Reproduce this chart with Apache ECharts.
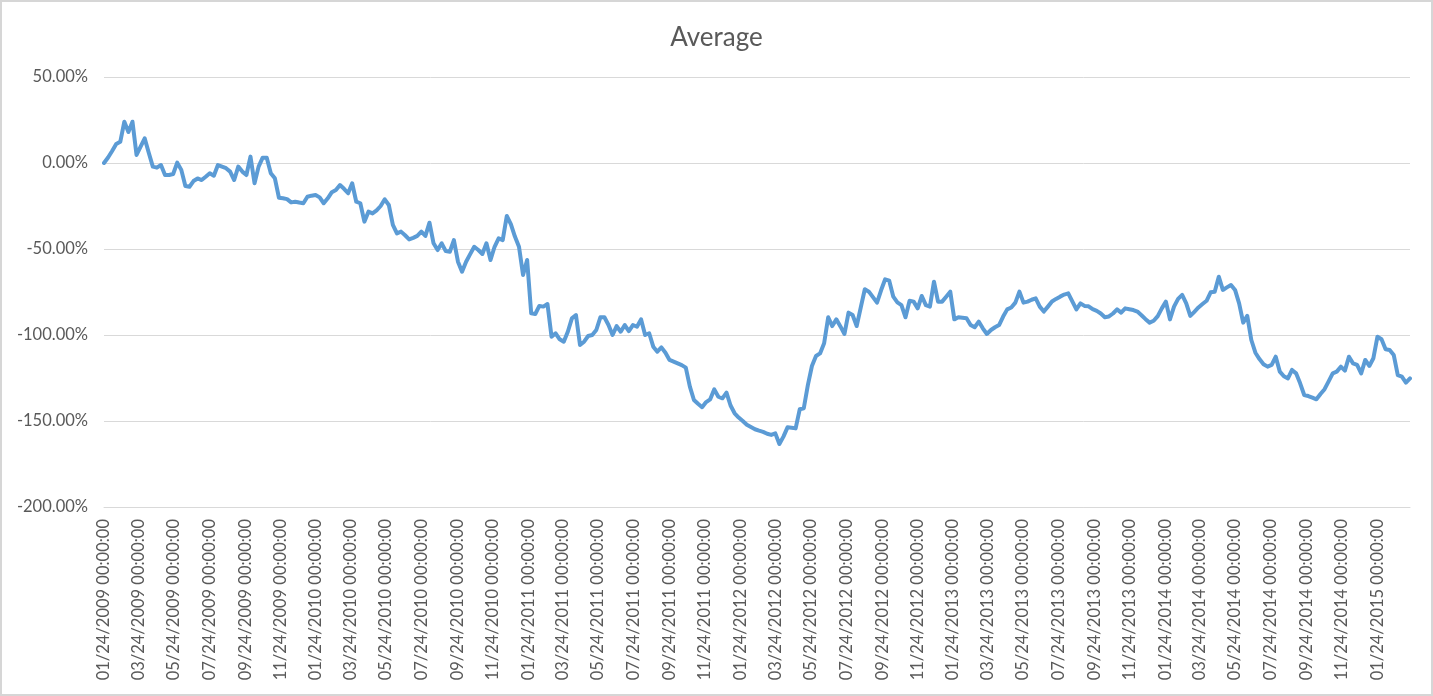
<!DOCTYPE html>
<html>
<head>
<meta charset="utf-8">
<script src="https://cdn.jsdelivr.net/npm/echarts@6/dist/echarts.min.js"></script>
<style>
  html, body { margin: 0; padding: 0; background: #fff; }
  #frame { width: 1433px; height: 696px; box-sizing: border-box; border: 2px solid #d6d6d6; background: #fff; }
  #chart { width: 100%; height: 100%; }
</style>
</head>
<body>
<div id="frame"><div id="chart"></div></div>
<script>
// Weekly observations starting on this date
const startDate = '2009-01-24';

// Weekly "Average" values in percent
const averageValues = [
  0, 3.2, 7.0, 11.0, 12.3, 24, 18, 24, 4.7, 9.5,
  14.3, 6, -2.1, -2.7, -1.2, -7, -7, -6.4, 0.2, -4,
  -13.4, -13.8, -10.5, -9, -9.9, -8, -6, -7.4, -1.2, -2.1,
  -3, -5, -9.9, -2.1, -5, -7, 3.7, -11.8, -2.1, 3.1,
  3.1, -6, -8.9, -20.2, -20.5, -21, -22.9, -22.5, -23, -23.4,
  -19.6, -19, -18.6, -20, -23.4, -20.5, -17, -15.7, -12.8, -15,
  -17.6, -11.8, -22.5, -23.4, -34.1, -28.3, -29.3, -27.5, -25, -21.1,
  -24.4, -36, -40.9, -39.9, -42, -44.4, -43.5, -42.4, -39.9, -42.4,
  -34.7, -46.7, -50.6, -46.7, -51.2, -51.6, -44.8, -57.4, -63.2, -57.4,
  -53, -48.7, -50.6, -52.9, -46.7, -56.4, -48.7, -43.8, -44.8, -30.8,
  -35.5, -42.8, -48.7, -65.1, -56.4, -87.4, -87.8, -83.1, -83.5, -82,
  -101, -99, -102.5, -103.9, -98.1, -90.3, -88.4, -105.8, -103.9, -100.6,
  -100, -97.1, -89.7, -89.7, -94.2, -100, -94.8, -98.1, -94.2, -97.7,
  -94.2, -95.2, -90.9, -100, -99, -106.8, -109.7, -107.2, -110.3, -114.5,
  -115.5, -116.5, -117.5, -119, -130, -137.8, -140, -142, -139, -137.4,
  -131.6, -135.9, -136.8, -133.5, -141, -145.5, -148, -150, -152.2, -153.5,
  -154.8, -155.6, -156.3, -157.4, -158.1, -157.2, -163.4, -159.1, -153.7, -153.9,
  -154.3, -143.2, -142.6, -129.1, -118, -112.2, -110.7, -104.8, -89.7, -94.8,
  -90.9, -95, -99.4, -87, -88.4, -94.8, -84, -73.4, -74.8, -78,
  -81.2, -74, -67.6, -68.4, -77.7, -81, -82.6, -89.7, -80.1, -80.6,
  -84.5, -77.3, -82.6, -83.5, -69, -80.6, -80.6, -77.7, -74.8, -90.9,
  -89.7, -90, -90.3, -94.2, -95.5, -92.2, -96.1, -99.4, -97.1, -95.5,
  -94.2, -89.3, -85.1, -84, -81.2, -74.8, -81.2, -80.6, -79.5, -78.7,
  -83.5, -86.4, -83.5, -80.5, -79, -77.7, -76.5, -75.8, -80.5, -85.1,
  -81.6, -83.1, -83.3, -85, -86, -87.5, -89.7, -89.2, -87.5, -85.1,
  -87, -84.5, -85, -85.5, -86.4, -88.5, -90.8, -92.8, -91.7, -89,
  -84.5, -80.6, -90.9, -83.5, -79, -76.7, -81.6, -88.9, -86.5, -84,
  -82, -80.1, -75.2, -74.8, -66.1, -73.8, -72.3, -70.9, -73.8, -81.6,
  -92.8, -88.9, -102.9, -110.3, -114, -117, -118.4, -117.4, -112.6, -121.3,
  -124, -125.2, -120.3, -122.3, -128.1, -134.9, -135.5, -136.4, -137.4, -134.3,
  -131.5, -127, -122.3, -121.3, -118.4, -120.7, -112.6, -116.5, -117.4, -122.3,
  -114.5, -118, -113.5, -101, -102.5, -108.3, -108.7, -111.6, -123.3, -124.2,
  -127.7, -125.2
];

// X-axis tick labels (every two months)
const xTickLabels = [
  '01/24/2009 00:00:00', '03/24/2009 00:00:00', '05/24/2009 00:00:00', '07/24/2009 00:00:00', '09/24/2009 00:00:00', '11/24/2009 00:00:00',
  '01/24/2010 00:00:00', '03/24/2010 00:00:00', '05/24/2010 00:00:00', '07/24/2010 00:00:00', '09/24/2010 00:00:00', '11/24/2010 00:00:00',
  '01/24/2011 00:00:00', '03/24/2011 00:00:00', '05/24/2011 00:00:00', '07/24/2011 00:00:00', '09/24/2011 00:00:00', '11/24/2011 00:00:00',
  '01/24/2012 00:00:00', '03/24/2012 00:00:00', '05/24/2012 00:00:00', '07/24/2012 00:00:00', '09/24/2012 00:00:00', '11/24/2012 00:00:00',
  '01/24/2013 00:00:00', '03/24/2013 00:00:00', '05/24/2013 00:00:00', '07/24/2013 00:00:00', '09/24/2013 00:00:00', '11/24/2013 00:00:00',
  '01/24/2014 00:00:00', '03/24/2014 00:00:00', '05/24/2014 00:00:00', '07/24/2014 00:00:00', '09/24/2014 00:00:00', '11/24/2014 00:00:00',
  '01/24/2015 00:00:00'
];

// Y-axis tick values (percent)
const yTicks = [-200, -150, -100, -50, 0, 50];

const DAY = 86400000;
function parseLabel(s) {
  const m = s.match(/^(\d\d)\/(\d\d)\/(\d{4})/);
  return Date.UTC(+m[3], +m[1] - 1, +m[2]);
}
function pad(n) { return (n < 10 ? '0' : '') + n; }
function fmtDate(t) {
  const d = new Date(t);
  return pad(d.getUTCMonth() + 1) + '/' + pad(d.getUTCDate()) + '/' + d.getUTCFullYear() + ' 00:00:00';
}

const start = Date.parse(startDate + 'T00:00:00Z');
const weekDates = averageValues.map((_, i) => start + i * 7 * DAY);
const seriesData = averageValues.map((v, i) => [weekDates[i], v]);
const tickPositions = xTickLabels.map(parseLabel);

const chart = echarts.init(document.getElementById('chart'), null, { renderer: 'canvas' });
const fontFamily = 'Lato, "Open Sans", sans-serif';
chart.setOption({
  animation: false,
  backgroundColor: '#ffffff',
  title: {
    text: 'Average',
    left: 'center',
    top: 18,
    textStyle: { fontFamily: fontFamily, fontSize: 26, fontWeight: 'normal', color: '#595959' }
  },
  grid: { left: 102, right: 21, top: 75, bottom: 187, containLabel: false },
  xAxis: {
    type: 'value',
    min: weekDates[0],
    max: weekDates[weekDates.length - 1],
    axisLine: { show: true, onZero: false, lineStyle: { color: '#d9d9d9', width: 1 } },
    axisTick: { show: false },
    splitLine: { show: false },
    axisLabel: {
      customValues: tickPositions,
      rotate: 90,
      margin: 12,
      fontFamily: fontFamily,
      fontSize: 16.5,
      color: '#595959',
      formatter: function (v) { return fmtDate(v); }
    }
  },
  yAxis: {
    type: 'value',
    min: yTicks[0],
    max: yTicks[yTicks.length - 1],
    interval: 50,
    axisLine: { show: false },
    axisTick: { show: false },
    splitLine: { show: true, lineStyle: { color: '#d9d9d9', width: 1 } },
    axisLabel: {
      margin: 16,
      fontFamily: fontFamily,
      fontSize: 16.5,
      color: '#595959',
      formatter: function (v) { return v.toFixed(2) + '%'; }
    }
  },
  series: [{
    name: 'Average',
    type: 'line',
    data: seriesData,
    showSymbol: false,
    symbol: 'none',
    smooth: false,
    lineStyle: { color: '#5b9bd5', width: 4, join: 'round', cap: 'round' },
    itemStyle: { color: '#5b9bd5' }
  }]
});
</script>
</body>
</html>
